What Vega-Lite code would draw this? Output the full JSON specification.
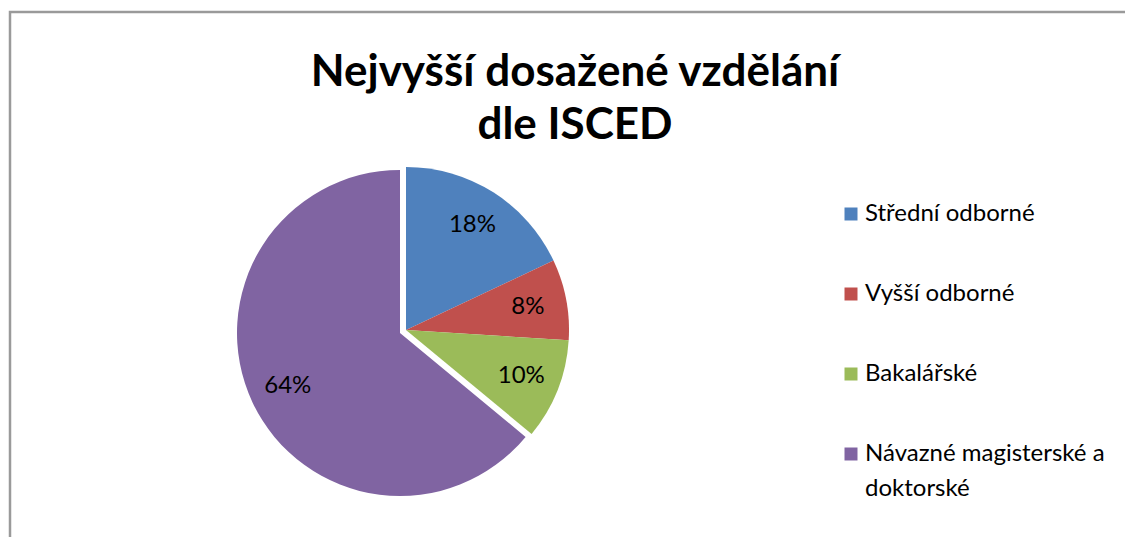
{
  "$schema": "https://vega.github.io/schema/vega-lite/v6.json",
  "autosize": "none",
  "width": 1300,
  "height": 560,
  "padding": {"left": 10, "top": 12, "right": 0, "bottom": 0},
  "background": "white",
  "config": {
    "style": {"view": {"stroke": "#9a9a9a", "strokeWidth": 2.5}, "guide-label": {"lineHeight": 35}},
    "font": "Lato"
  },
  "title": {
    "text": ["Nejvyšší dosažené vzdělání", "dle ISCED"],
    "font": "Lato",
    "fontSize": 44,
    "fontWeight": "bold",
    "color": "black",
    "anchor": "middle",
    "lineHeight": 53,
    "offset": -136,
    "dx": -85
  },
  "data": {
    "values": [
      {"cat": "Střední odborné", "share": 0.18, "order": 1},
      {"cat": "Vyšší odborné", "share": 0.08, "order": 2},
      {"cat": "Bakalářské", "share": 0.10, "order": 3},
      {"cat": "Návazné magisterské a doktorské", "share": 0.64, "order": 4}
    ]
  },
  "encoding": {
    "theta": {"field": "share", "type": "quantitative", "stack": true, "scale": {"domain": [0, 1]}},
    "order": {"field": "order", "type": "quantitative"},
    "color": {
      "field": "cat",
      "type": "nominal",
      "scale": {
        "domain": ["Střední odborné", "Vyšší odborné", "Bakalářské", "Návazné magisterské a doktorské"],
        "range": ["#4F81BD", "#C0504D", "#9BBB59", "#8064A2"]
      },
      "legend": {
        "title": null,
        "orient": "none",
        "legendX": 829,
        "legendY": 190,
        "padding": 0,
        "symbolType": "square",
        "symbolSize": 169,
        "symbolStrokeWidth": 0,
        "labelFont": "Lato",
        "labelFontSize": 24,
        "labelColor": "black",
        "labelLimit": 400,
        "labelOffset": 2,
        "rowPadding": 56,
        "labelExpr": "datum.label == 'Návazné magisterské a doktorské' ? ['Návazné magisterské a', 'doktorské'] : datum.label"
      }
    }
  },
  "layer": [
    {
      "mark": {"type": "arc", "outerRadius": 163, "x": 396, "y": 318},
      "encoding": {
        "opacity": {"condition": {"test": "datum.cat === 'Návazné magisterské a doktorské'", "value": 0}, "value": 1}
      }
    },
    {
      "mark": {"type": "arc", "outerRadius": 163, "x": 390, "y": 321},
      "encoding": {
        "opacity": {"condition": {"test": "datum.cat === 'Návazné magisterské a doktorské'", "value": 1}, "value": 0}
      }
    },
    {
      "mark": {"type": "text", "radius": 124, "x": 396, "y": 318, "font": "Lato", "fontSize": 24},
      "encoding": {
        "text": {"field": "share", "type": "quantitative", "format": ".0%"},
        "color": {"value": "black"},
        "opacity": {"condition": {"test": "datum.cat === 'Návazné magisterské a doktorské'", "value": 0}, "value": 1}
      }
    },
    {
      "mark": {"type": "text", "radius": 124, "x": 390, "y": 321, "font": "Lato", "fontSize": 24},
      "encoding": {
        "text": {"field": "share", "type": "quantitative", "format": ".0%"},
        "color": {"value": "black"},
        "opacity": {"condition": {"test": "datum.cat === 'Návazné magisterské a doktorské'", "value": 1}, "value": 0}
      }
    }
  ]
}
